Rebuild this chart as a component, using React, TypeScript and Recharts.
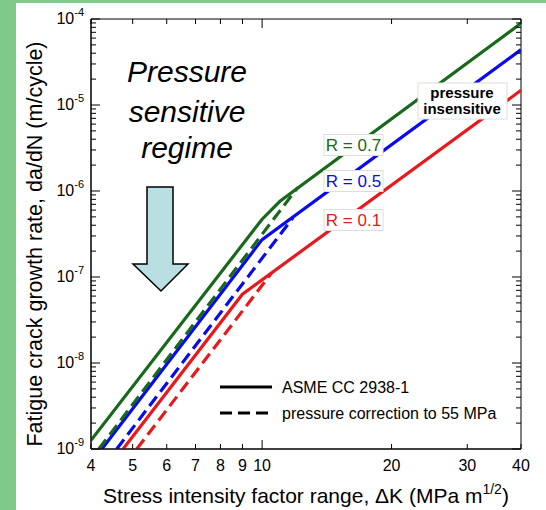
import React from "react";
import { ComposedChart, Line, XAxis, YAxis, ReferenceArea } from "recharts";

// stress intensity factor range ΔK (MPa m^1/2) and da/dN (m/cycle)
const K_R07_ASME = [4, 10, 11, 40];
const DADN_R07_ASME = [1.26e-9, 4.7e-7, 7.6e-7, 8.9e-5];
const K_R07_H2 = [4.17, 12.1];
const DADN_R07_H2 = [1e-9, 1.1e-6];

const K_R05_ASME = [4.24, 10, 40];
const DADN_R05_ASME = [1e-9, 2.72e-7, 4.4e-5];
const K_R05_H2 = [4.59, 11.8];
const DADN_R05_H2 = [1e-9, 4.9e-7];

const K_R01_ASME = [4.75, 9, 40];
const DADN_R01_ASME = [1e-9, 6.3e-8, 1.48e-5];
const K_R01_H2 = [5.11, 10.5];
const DADN_R01_H2 = [1e-9, 1.1e-7];

const X_TICKS = [4, 5, 6, 7, 8, 9, 10, 20, 30, 40];
const Y_EXPONENTS = [-9, -8, -7, -6, -5, -4];
const MINOR_STEPS = [2, 3, 4, 5, 6, 7, 8, 9];

const GREEN = "#19691c";
const BLUE = "#0a0aee";
const RED = "#e8191c";
const FONT = "'Liberation Sans', Arial, Helvetica, sans-serif";

const PLOT_TOP = 19;
const PLOT_BOTTOM = 449;
const PLOT_LEFT = 91;
const PLOT_RIGHT = 521;

const Y_TICKS: number[] = [];
Y_EXPONENTS.forEach((e, i) => {
  Y_TICKS.push(Math.pow(10, e));
  if (i < Y_EXPONENTS.length - 1) MINOR_STEPS.forEach((m) => Y_TICKS.push(m * Math.pow(10, e)));
});

const toPoints = (xs: number[], ys: number[]) => xs.map((x, i) => ({ x, y: ys[i] }));

function XTick(props: any) {
  const { x, payload } = props;
  const v = payload.value;
  const len = v === 10 ? 9 : 5;
  return (
    <g>
      <line x1={x} x2={x} y1={PLOT_BOTTOM} y2={PLOT_BOTTOM - len} stroke="#000" strokeWidth={1} />
      <line x1={x} x2={x} y1={PLOT_TOP} y2={PLOT_TOP + len} stroke="#000" strokeWidth={1} />
      <text x={x} y={PLOT_BOTTOM + 22} textAnchor="middle" fontSize={16} fontFamily={FONT} fill="#000">
        {v}
      </text>
    </g>
  );
}

function YTick(props: any) {
  const { y, payload } = props;
  const v = payload.value;
  const exp = Math.round(Math.log10(v));
  const major = Math.abs(v / Math.pow(10, exp) - 1) < 1e-6;
  const len = major ? 9 : 5;
  return (
    <g>
      <line x1={PLOT_LEFT} x2={PLOT_LEFT + len} y1={y} y2={y} stroke="#000" strokeWidth={1} />
      <line x1={PLOT_RIGHT} x2={PLOT_RIGHT - len} y1={y} y2={y} stroke="#000" strokeWidth={1} />
      {major && (
        <text x={84} y={y + 5} textAnchor="end" fontSize={16} fontFamily={FONT} fill="#000">
          10
          <tspan fontSize={11} dy={-8}>{exp}</tspan>
        </text>
      )}
    </g>
  );
}

function RLabel({ y, text, color }: { y: number; text: string; color: string }) {
  return (
    <g>
      <rect x={324} y={y - 10.5} width={59} height={21} fill="#fff" stroke="#ddd" strokeWidth={1} />
      <text x={353.5} y={y + 6} textAnchor="middle" fontSize={17} fontFamily={FONT} fill={color}>
        {text}
      </text>
    </g>
  );
}

export default function App() {
  const series = [
    { d: toPoints(K_R07_ASME, DADN_R07_ASME), c: GREEN, dash: undefined },
    { d: toPoints(K_R05_ASME, DADN_R05_ASME), c: BLUE, dash: undefined },
    { d: toPoints(K_R01_ASME, DADN_R01_ASME), c: RED, dash: undefined },
    { d: toPoints(K_R07_H2, DADN_R07_H2), c: GREEN, dash: "12 6" },
    { d: toPoints(K_R05_H2, DADN_R05_H2), c: BLUE, dash: "12 6" },
    { d: toPoints(K_R01_H2, DADN_R01_H2), c: RED, dash: "12 6" },
  ];

  return (
    <div style={{ position: "absolute", left: 0, top: 0, width: 546, height: 510, background: "#7fc98b" }}>
      <div style={{ position: "absolute", left: 16, top: 3, width: 530, height: 507, background: "#fff" }} />
      <div style={{ position: "absolute", left: 0, top: 0 }}>
        <ComposedChart width={546} height={510} margin={{ top: 19, right: 25, bottom: 21, left: 16 }}>
          <XAxis
            type="number"
            dataKey="x"
            scale="log"
            domain={[4, 40]}
            allowDataOverflow
            ticks={X_TICKS}
            interval={0}
            tickLine={false}
            axisLine={{ stroke: "#000" }}
            height={40}
            tick={<XTick />}
          />
          <YAxis
            type="number"
            dataKey="y"
            scale="log"
            domain={[1e-9, 1e-4]}
            allowDataOverflow
            ticks={Y_TICKS}
            interval={0}
            tickLine={false}
            axisLine={{ stroke: "#000" }}
            width={75}
            tick={<YTick />}
          />
          <ReferenceArea x1={4} x2={40} y1={1e-9} y2={1e-4} fill="none" fillOpacity={0} stroke="#000" strokeWidth={1} />
          {series.map((s, i) => (
            <Line
              key={i}
              data={s.d}
              dataKey="y"
              type="linear"
              stroke={s.c}
              strokeWidth={3.2}
              strokeDasharray={s.dash}
              dot={false}
              activeDot={false}
              isAnimationActive={false}
            />
          ))}
        </ComposedChart>
      </div>
      <svg width={546} height={510} style={{ position: "absolute", left: 0, top: 0, pointerEvents: "none" }}>
        <g fontFamily={FONT}>
          <text
            transform="translate(35 244) rotate(-90)"
            textAnchor="middle"
            dominantBaseline="central"
            fontSize={21.5}
            fill="#000"
          >
            Fatigue crack growth rate, da/dN (m/cycle)
          </text>
          <text x={306} y={503} textAnchor="middle" fontSize={21} fill="#000">
            Stress intensity factor range, ΔK (MPa m
            <tspan fontSize={14} dy={-9}>1/2</tspan>
            <tspan dy={9}>)</tspan>
          </text>

          <g fontSize={30} fontStyle="italic" textAnchor="middle" fill="#000">
            <text x={187} y={82}>Pressure</text>
            <text x={187} y={122}>sensitive</text>
            <text x={187} y={158}>regime</text>
          </g>
          <polygon
            points="147,187 173,187 173,264 188,264 161,291 133,264 147,264"
            fill="#b9dfe2"
            stroke="#000"
            strokeWidth={1.5}
          />

          <RLabel y={145} text="R = 0.7" color={GREEN} />
          <RLabel y={181} text="R = 0.5" color={BLUE} />
          <RLabel y={220} text="R = 0.1" color={RED} />

          <rect x={418} y={83} width={89} height={36} fill="#fff" stroke="#ddd" strokeWidth={1} />
          <g fontSize={15} fontWeight="bold" textAnchor="middle" fill="#000">
            <text x={462} y={98}>pressure</text>
            <text x={462} y={114}>insensitive</text>
          </g>

          <line x1={220} x2={272} y1={387} y2={387} stroke="#000" strokeWidth={3} />
          <text x={282} y={392.5} fontSize={16} fill="#000">ASME CC 2938-1</text>
          <line x1={220} x2={272} y1={413} y2={413} stroke="#000" strokeWidth={3} strokeDasharray="12 6" />
          <text x={282} y={418.5} fontSize={16} fill="#000">pressure correction to 55 MPa</text>
        </g>
      </svg>
    </div>
  );
}
